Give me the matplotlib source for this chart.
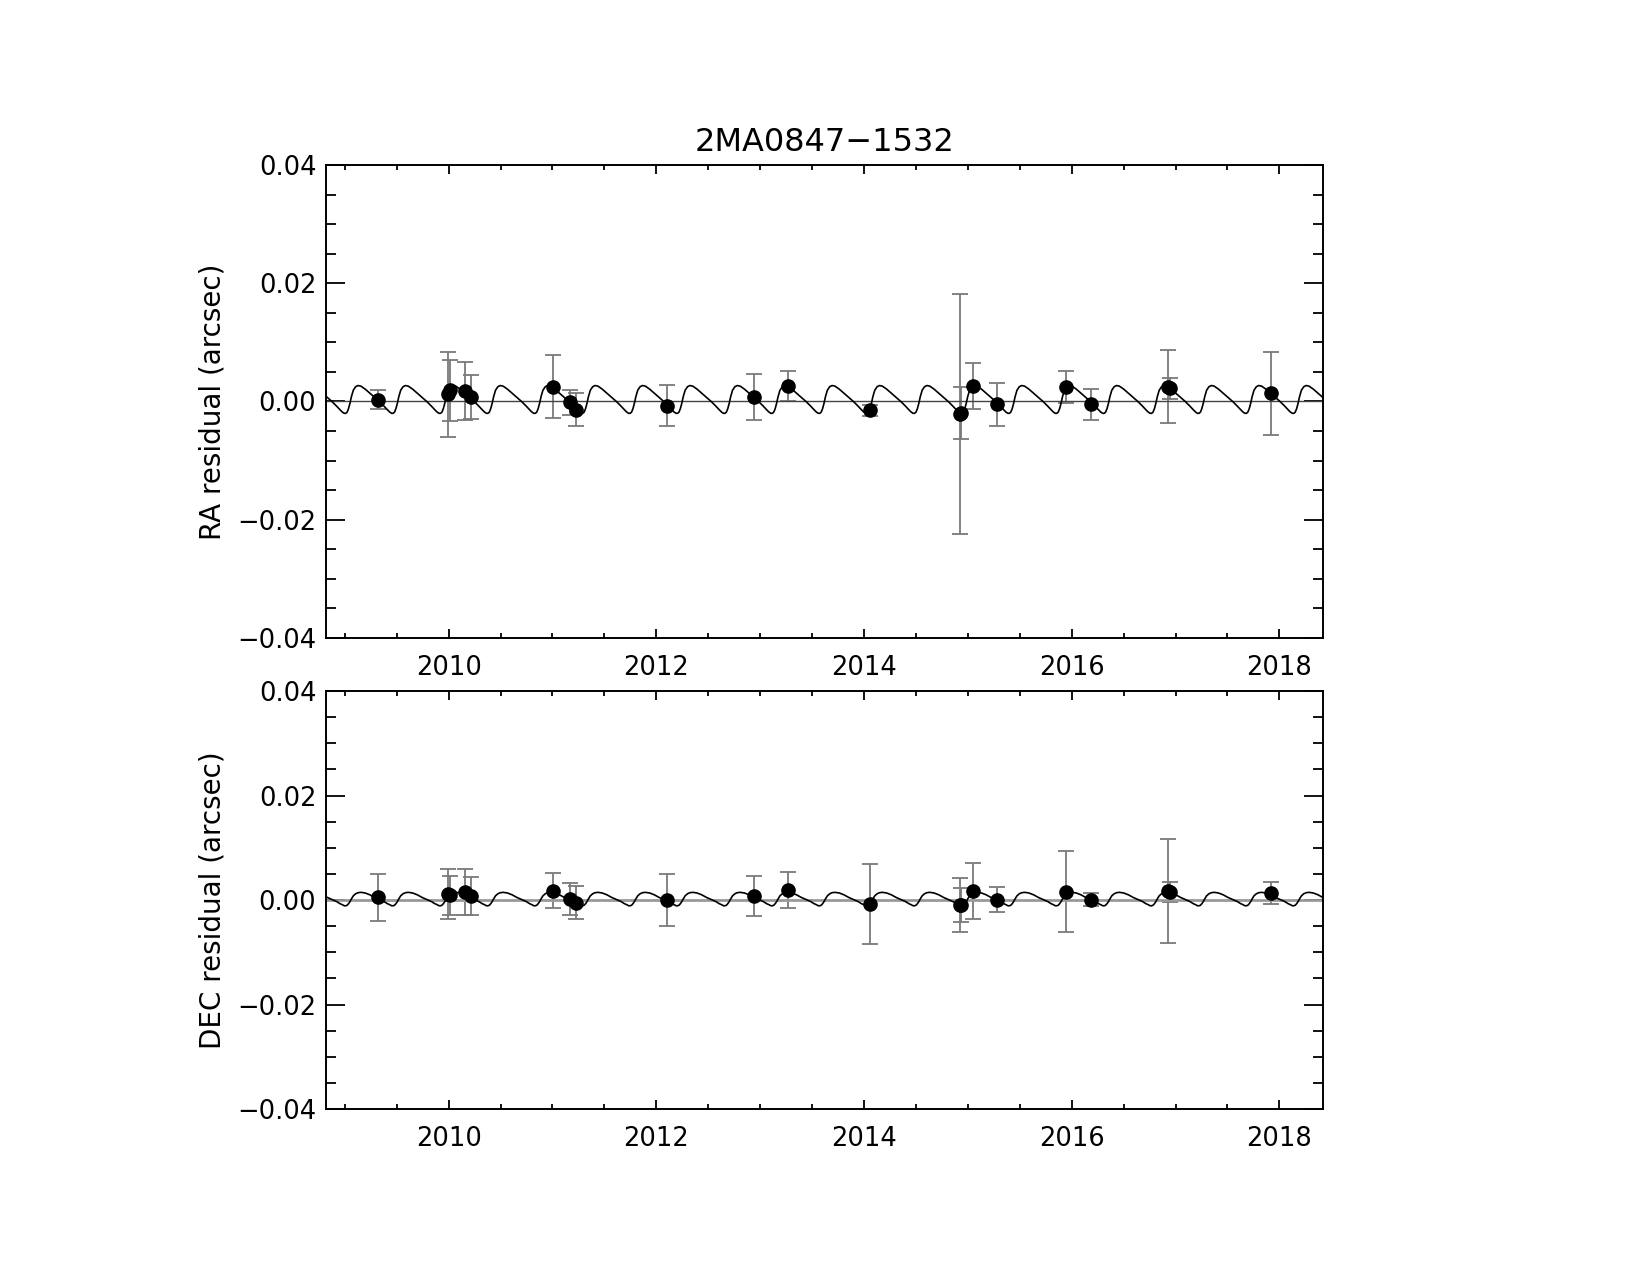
import numpy as np
import matplotlib
matplotlib.use("Agg")
import matplotlib.pyplot as plt
from matplotlib.ticker import MultipleLocator, FuncFormatter

# observation epochs (years)
epochs = [2009.324, 2009.995, 2010.012, 2010.157, 2010.218, 2011.003, 2011.166,
          2011.230, 2012.103, 2012.942, 2013.272, 2014.056, 2014.924, 2014.930,
          2015.048, 2015.280, 2015.944, 2016.190, 2016.925, 2016.948, 2017.920]

# RA residuals and errors (arcsec)
ra_res = [0.0003, 0.0012, 0.0019, 0.0018, 0.0007, 0.0025, -0.0001,
          -0.0014, -0.0007, 0.0007, 0.0026, -0.0015, -0.0021, -0.0020,
          0.0026, -0.0005, 0.0025, -0.0005, 0.0025, 0.0022, 0.0014]
ra_err = [0.0016, 0.0072, 0.0052, 0.0049, 0.0037, 0.0053, 0.0021,
          0.0028, 0.0035, 0.0039, 0.0025, 0.0009, 0.0203, 0.0044,
          0.0039, 0.0037, 0.0027, 0.0026, 0.0062, 0.0017, 0.0070]

# DEC residuals and errors (arcsec)
dec_res = [0.0005, 0.0011, 0.0009, 0.0015, 0.0008, 0.0018, 0.0002,
           -0.0005, 0.0000, 0.0008, 0.0019, -0.0008, -0.0010, -0.0010,
           0.0017, 0.0001, 0.0016, 0.0001, 0.0017, 0.0016, 0.0013]
dec_err = [0.0045, 0.0048, 0.0037, 0.0044, 0.0037, 0.0033, 0.0031,
           0.0031, 0.0049, 0.0038, 0.0035, 0.0077, 0.0052, 0.0033,
           0.0054, 0.0024, 0.0078, 0.0013, 0.0100, 0.0019, 0.0021]

# model curve: one cycle, repeated every cycle
cycle_start = 2009.128
cycle_len = 0.4565
n_cycles = (-1, 21)
phase = [0.00, 0.06, 0.15, 0.25, 0.35, 0.45, 0.55, 0.62, 0.67, 0.71, 0.74,
         0.77, 0.80, 0.83, 0.86, 0.90, 0.95]
ra_cycle = [0.0027, 0.0026, 0.0021, 0.0014, 0.0007, 0.0000, -0.0008, -0.0014,
            -0.0018, -0.0020, -0.0020, -0.0018, -0.0012, -0.0003, 0.0008,
            0.0019, 0.0025]
dec_cycle = [0.0014, 0.00147, 0.00135, 0.0010, 0.0005, 0.0001, -0.0003, -0.0007,
             -0.0009, -0.0011, -0.0011, -0.0010, -0.0007, -0.0003, 0.0002,
             0.0008, 0.0012]

xlim = (2008.82, 2018.42)
ylim = (-0.04, 0.04)

plt.rcParams['font.family'] = 'DejaVu Sans'


def minus_fmt(v, pos):
    s = "%.2f" % v
    if s == "-0.00":
        s = "0.00"
    return s.replace("-", "\u2212")


def model(cycle):
    t = []
    y = []
    for k in range(n_cycles[0], n_cycles[1]):
        for p, v in zip(phase, cycle):
            t.append(cycle_start + cycle_len * (k + p))
            y.append(v)
    return np.array(t), np.array(y)


def panel(ax, res, err, cycle, label, zcolor, zwidth):
    ax.errorbar(epochs, res, yerr=err, fmt='none', ecolor='#7a7a7a',
                elinewidth=1.3, capsize=6, capthick=1.3, zorder=2)
    t, y = model(cycle)
    ax.plot(t, y, color='black', lw=1.2, zorder=3)
    ax.axhline(0, color=zcolor, lw=zwidth, zorder=2.5)
    ax.plot(epochs, res, 'o', color='black', ms=9.5, zorder=4)
    ax.set_xlim(xlim)
    ax.set_ylim(ylim)
    ax.xaxis.set_major_locator(MultipleLocator(2))
    ax.xaxis.set_minor_locator(MultipleLocator(0.5))
    ax.yaxis.set_major_locator(MultipleLocator(0.02))
    ax.yaxis.set_minor_locator(MultipleLocator(0.005))
    ax.yaxis.set_major_formatter(FuncFormatter(minus_fmt))
    ax.tick_params(which='both', direction='in', top=True, right=True,
                   width=1.3, labelsize=18.5, colors='black')
    ax.tick_params(axis='y', which='major', length=14, pad=7)
    ax.tick_params(axis='y', which='minor', length=7)
    ax.tick_params(axis='x', which='major', length=6.5, pad=12)
    ax.tick_params(axis='x', which='minor', length=3.5)
    for s in ax.spines.values():
        s.set_linewidth(1.4)
    ax.set_ylabel(label, fontsize=20)
    ax.yaxis.set_label_coords(-0.100, 0.5)


fig = plt.figure(figsize=(16.5, 12.75), dpi=100)
ax1 = fig.add_axes([0.1976, 0.4996, 0.6042, 0.3710])
ax2 = fig.add_axes([0.1976, 0.1302, 0.6042, 0.3278])

panel(ax1, ra_res, ra_err, ra_cycle, "RA residual (arcsec)", '#444444', 1.0)
panel(ax2, dec_res, dec_err, dec_cycle, "DEC residual (arcsec)", '#999999', 2.0)
ax1.set_title("2MA0847\u22121532", fontsize=23, pad=10)

plt.savefig("out.png", dpi=100)
